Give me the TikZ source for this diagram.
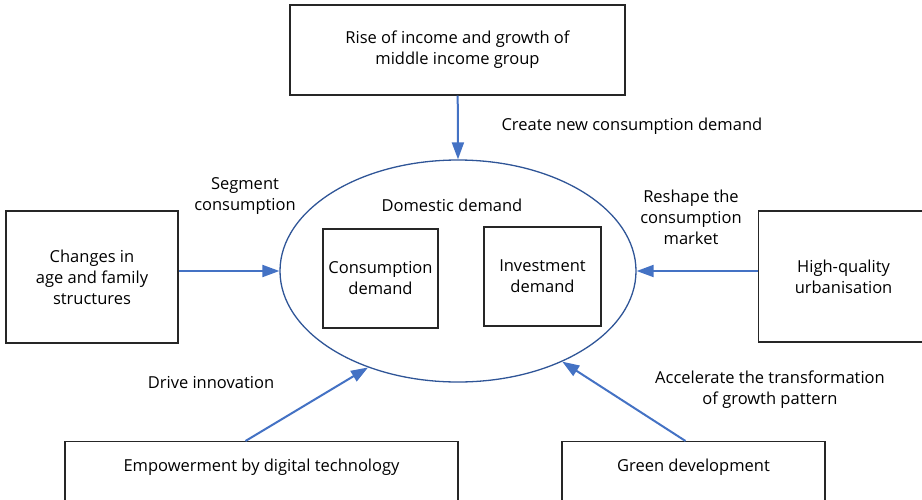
\documentclass[tikz,border=0pt]{standalone}
\usepackage{fontspec}
\setmainfont{Open Sans}
\usepackage{xcolor}
\usetikzlibrary{calc,shapes.geometric,arrows.meta}

\definecolor{arrowblue}{RGB}{68,114,196}
\definecolor{ringblue}{RGB}{47,85,151}

\begin{document}
\begin{tikzpicture}[x=1pt,y=-1pt,
    box/.style={draw=black!85, line width=1.1pt, align=center, font=\fontsize{16.5}{21}\selectfont},
    lowbox/.style={box, text height=12pt, text depth=62pt, inner ysep=18pt},
    note/.style={align=center, font=\fontsize{16.5}{21}\selectfont},
    feed/.style={draw=arrowblue, line width=2pt, -{Triangle[length=17pt,width=12pt]}}]
            \useasboundingbox (0,0) rectangle (922,499);
            \node[draw=ringblue, line width=1.3pt, ellipse, minimum width=356, minimum height=222] (dom) at (458,271) {};
            \node[note] at (452,205) {Domestic demand};
            \node[box, minimum width=115, minimum height=99] (cons) at (380.5,278.5) {Consumption\\demand};
            \node[box, minimum width=117, minimum height=99] (inv) at (542.5,276.5) {Investment\\demand};
            \node[box, minimum width=335, minimum height=90] (rise) at (457.5,50) {Rise of income and growth of\\middle income group};
            \node[box, minimum width=172, minimum height=132] (age) at (92,277) {Changes in\\age and family\\structures};
            \node[box, minimum width=170, minimum height=131, anchor=west] (urb) at (758,276.5) {High-quality\\urbanisation};
            \node[lowbox, minimum width=393, anchor=north] (emp) at (261.5,441) {Empowerment by digital technology};
            \node[lowbox, minimum width=263, anchor=north] (green) at (693.5,441) {Green development};
            % arrows into the ellipse
            \draw[feed] (rise) -- (dom.north);
            \draw[feed] (age.east |- dom) -- (dom.west);
            \draw[feed] (urb.west |- dom) -- (dom.east);
            \draw[feed] ([xshift=-16pt]emp.north) -- (dom.227);
            \draw[feed] ([xshift=-8pt]green.north) -- (dom.319);
            % labels
            \node[note, anchor=west] at (498,126) {Create new consumption demand};
            \node[note] at (245,196) {Segment\\consumption};
            \node[note] at (691,217) {Reshape the\\consumption\\market};
            \node[note] at (211,383) {Drive innovation};
            \node[note] at (770,390) {Accelerate the transformation\\of growth pattern};
        \end{tikzpicture}
\end{document}
